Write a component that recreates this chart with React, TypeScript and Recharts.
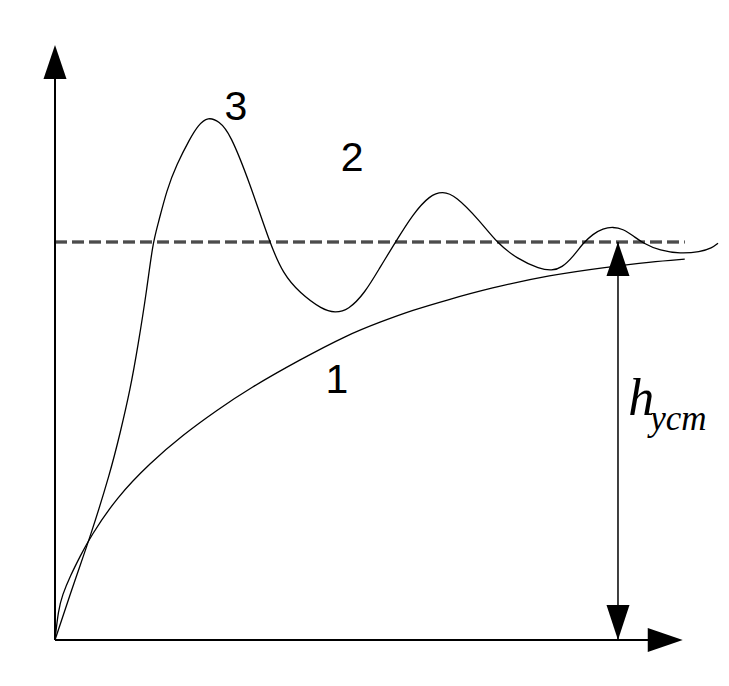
import { ComposedChart, Line, XAxis, YAxis, ReferenceLine, ReferenceDot } from "recharts";

// t: time, h: level (steady state h = 1)
const curve1 = [
  { t: 0, h: 0 },
  { t: 0.05, h: 0.075 },
  { t: 0.11, h: 0.113 },
  { t: 0.23, h: 0.161 },
  { t: 0.38, h: 0.211 },
  { t: 0.53, h: 0.259 },
  { t: 0.93, h: 0.359 },
  { t: 1.43, h: 0.445 },
  { t: 1.92, h: 0.515 },
  { t: 2.44, h: 0.578 },
  { t: 2.93, h: 0.633 },
  { t: 3.68, h: 0.704 },
  { t: 4.39, h: 0.766 },
  { t: 4.89, h: 0.799 },
  { t: 5.38, h: 0.829 },
  { t: 5.89, h: 0.854 },
  { t: 6.54, h: 0.884 },
  { t: 7.44, h: 0.917 },
  { t: 8.3, h: 0.937 },
  { t: 8.95, h: 0.95 },
  { t: 9.47, h: 0.957 },
];

const curve3 = [
  { t: 0, h: 0 },
  { t: 0.3, h: 0.151 },
  { t: 0.53, h: 0.259 },
  { t: 0.83, h: 0.42 },
  { t: 0.98, h: 0.52 },
  { t: 1.13, h: 0.628 },
  { t: 1.25, h: 0.741 },
  { t: 1.38, h: 0.879 },
  { t: 1.47, h: 0.997 },
  { t: 1.55, h: 1.045 },
  { t: 1.68, h: 1.131 },
  { t: 1.83, h: 1.195 },
  { t: 2.03, h: 1.26 },
  { t: 2.15, h: 1.293 },
  { t: 2.3, h: 1.315 },
  { t: 2.47, h: 1.303 },
  { t: 2.63, h: 1.274 },
  { t: 2.93, h: 1.148 },
  { t: 3.23, h: 0.997 },
  { t: 3.43, h: 0.92 },
  { t: 3.68, h: 0.872 },
  { t: 4.02, h: 0.83 },
  { t: 4.21, h: 0.822 },
  { t: 4.41, h: 0.829 },
  { t: 4.66, h: 0.872 },
  { t: 4.89, h: 0.937 },
  { t: 5.11, h: 0.997 },
  { t: 5.38, h: 1.07 },
  { t: 5.64, h: 1.118 },
  { t: 5.83, h: 1.127 },
  { t: 6.02, h: 1.117 },
  { t: 6.39, h: 1.053 },
  { t: 6.65, h: 0.997 },
  { t: 6.95, h: 0.958 },
  { t: 7.29, h: 0.932 },
  { t: 7.47, h: 0.928 },
  { t: 7.62, h: 0.935 },
  { t: 7.8, h: 0.965 },
  { t: 7.94, h: 0.997 },
  { t: 8.09, h: 1.02 },
  { t: 8.24, h: 1.034 },
  { t: 8.39, h: 1.038 },
  { t: 8.54, h: 1.033 },
  { t: 8.7, h: 1.015 },
  { t: 8.84, h: 0.997 },
  { t: 9.1, h: 0.978 },
  { t: 9.4, h: 0.971 },
  { t: 9.7, h: 0.975 },
  { t: 9.88, h: 0.985 },
  { t: 9.97, h: 0.997 },
];

const hSteady = 1;
const tMax = 10;
const hMax = 1.495;
const xAxisEnd = 9.44;
const dashEnd = 9.47;
const tMarker = 8.466;

const curveLabels = [
  { text: "3", t: 2.72, h: 1.307 },
  { text: "2", t: 4.47, h: 1.178 },
  { text: "1", t: 4.24, h: 0.621 },
];

const hLabel = { main: "h", sub: "уст", t: 8.62, h: 0.565 };

type Pt = { cx?: number; cy?: number };

const upArrow = ({ cx = 0, cy = 0 }: Pt) => (
  <polygon points={`${cx},${cy} ${cx - 11.5},${cy + 34} ${cx + 11.5},${cy + 34}`} fill="#000" />
);
const downArrow = ({ cx = 0, cy = 0 }: Pt) => (
  <polygon points={`${cx},${cy} ${cx - 11.5},${cy - 35} ${cx + 11.5},${cy - 35}`} fill="#000" />
);
const rightArrow = ({ cx = 0, cy = 0 }: Pt) => (
  <polygon points={`${cx},${cy} ${cx - 35},${cy - 12} ${cx - 35},${cy + 12}`} fill="#000" />
);

export default function App() {
  return (
    <ComposedChart
      width={713}
      height={670}
      margin={{ top: 37, right: 1, bottom: 38, left: 47 }}
      style={{ background: "#fff" }}
    >
      <XAxis dataKey="t" type="number" domain={[0, tMax]} hide allowDataOverflow />
      <YAxis dataKey="h" type="number" domain={[0, hMax]} hide allowDataOverflow />

      {/* steady-state level: outlined dashes */}
      <ReferenceLine
        segment={[{ x: 0, y: hSteady }, { x: dashEnd, y: hSteady }]}
        stroke="#111"
        strokeWidth={3}
        strokeDasharray="12 5"
      />
      <ReferenceLine
        segment={[{ x: 0, y: hSteady }, { x: dashEnd, y: hSteady }]}
        stroke="#888"
        strokeWidth={1}
        strokeDasharray="12 5"
      />

      {/* axes */}
      <ReferenceLine segment={[{ x: 0, y: 0 }, { x: 0, y: hMax - 0.05 }]} stroke="#000" strokeWidth={2} />
      <ReferenceLine segment={[{ x: 0, y: 0 }, { x: xAxisEnd - 0.3, y: 0 }]} stroke="#000" strokeWidth={2} />
      <ReferenceDot x={0} y={hMax} r={0} shape={upArrow} ifOverflow="visible" />
      <ReferenceDot x={xAxisEnd} y={0} r={0} shape={rightArrow} ifOverflow="visible" />

      {/* h_уст dimension arrow */}
      <ReferenceLine segment={[{ x: tMarker, y: 0 }, { x: tMarker, y: hSteady }]} stroke="#000" strokeWidth={1.5} />
      <ReferenceDot x={tMarker} y={hSteady} r={0} shape={upArrow} ifOverflow="visible" />
      <ReferenceDot x={tMarker} y={0} r={0} shape={downArrow} ifOverflow="visible" />

      <Line data={curve1} dataKey="h" type="basis" stroke="#000" strokeWidth={1.3} dot={false} isAnimationActive={false} />
      <Line data={curve3} dataKey="h" type="basis" stroke="#000" strokeWidth={1.3} dot={false} isAnimationActive={false} />

      {curveLabels.map((l) => (
        <ReferenceDot
          key={l.text}
          x={l.t}
          y={l.h}
          r={0}
          ifOverflow="visible"
          shape={({ cx = 0, cy = 0 }: Pt) => (
            <text x={cx} y={cy} textAnchor="middle" fontFamily="Liberation Sans, Arial, sans-serif" fontSize={41} fill="#000">
              {l.text}
            </text>
          )}
        />
      ))}

      <ReferenceDot
        x={hLabel.t}
        y={hLabel.h}
        r={0}
        ifOverflow="visible"
        shape={({ cx = 0, cy = 0 }: Pt) => (
          <text x={cx} y={cy} fontFamily="Liberation Serif, Times New Roman, serif" fontStyle="italic" fill="#000">
            <tspan fontSize={52}>{hLabel.main}</tspan>
            <tspan fontSize={35} dx={-4} dy={15}>{hLabel.sub}</tspan>
          </text>
        )}
      />
    </ComposedChart>
  );
}
